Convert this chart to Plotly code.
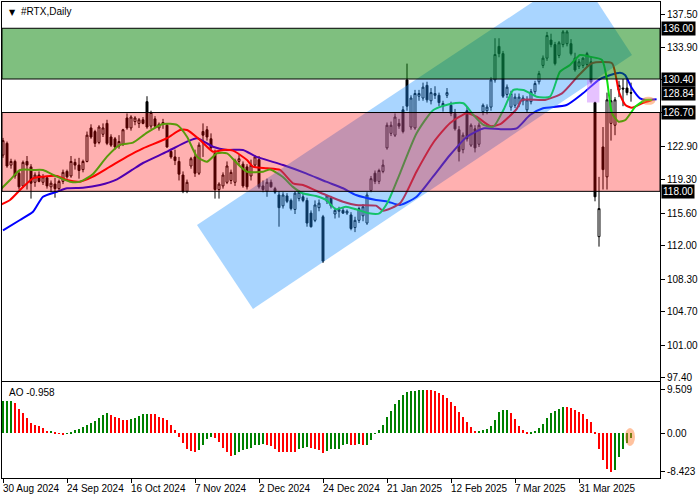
import plotly.graph_objects as go
import pandas as pd

# ---------------- data ----------------
symbol_title = "#RTX,Daily"
holidays = ["2024-09-02", "2024-11-28", "2024-12-25", "2025-01-01", "2025-01-09",
            "2025-01-20", "2025-02-17", "2025-04-18"]
dates = [d for d in pd.bdate_range("2024-08-30", "2025-04-17")
         if d.strftime("%Y-%m-%d") not in holidays]

opens = [122.0, 123.3, 120.9, 121.3, 120.0, 118.6, 121.3, 120.7, 119.0, 119.8,
         119.0, 119.5, 118.5, 118.8, 118.3, 119.1, 120.2, 119.7, 121.2, 120.9,
         120.4, 121.3, 125.0, 124.6, 123.4, 124.3, 125.5, 124.0, 123.8, 123.0,
         123.2, 126.1, 125.0, 125.7, 125.5, 125.9, 127.9, 125.2, 126.0, 125.0,
         125.4, 125.3, 122.4, 121.8, 121.3, 119.8, 118.0, 120.8, 121.8, 120.0,
         124.6, 124.8, 123.8, 122.2, 118.2, 118.6, 119.0, 119.2, 119.0, 121.3,
         121.0, 120.7, 119.7, 120.9, 121.5, 118.6, 118.0, 119.0, 118.3, 117.6,
         116.4, 117.5, 117.0, 116.0, 117.2, 117.4, 117.0, 115.6, 114.8, 116.2,
         115.2, 116.9, 117.3, 115.5, 115.8, 115.9, 115.6, 115.4, 114.0, 114.8,
         115.3, 114.5, 118.1, 120.0, 119.1, 120.2, 122.8, 124.4, 124.2, 125.5,
         127.0, 130.3, 125.1, 125.0, 128.5, 128.3, 129.7, 128.0, 128.8, 128.6,
         127.4, 128.6, 127.5, 126.6, 124.8, 122.6, 126.9, 123.1, 124.9, 123.2,
         126.8, 126.9, 127.3, 130.3, 134.0, 133.2, 128.7, 127.3, 127.5, 127.6,
         128.0, 127.0, 127.9, 129.0, 130.1, 131.9, 132.7, 134.7, 134.2, 133.0,
         134.2, 134.3, 134.3, 132.7, 131.8, 131.9, 132.0, 132.3, 127.8, 113.0,
         122.9, 119.6, 125.5, 125.3, 129.2, 129.4, 129.4, 128.9]
highs = [123.9, 123.5, 121.6, 121.5, 120.3, 121.4, 121.9, 121.0, 120.1, 120.2,
         119.9, 119.7, 119.2, 119.5, 119.3, 120.4, 120.4, 121.9, 121.6, 121.7,
         121.5, 124.6, 125.4, 124.8, 125.3, 125.5, 125.9, 124.3, 124.0, 124.2,
         124.9, 126.6, 126.4, 126.3, 126.1, 126.2, 128.5, 126.9, 126.3, 125.6,
         126.0, 125.5, 122.7, 122.6, 121.8, 120.2, 119.3, 121.8, 122.6, 123.4,
         125.5, 125.2, 124.4, 122.6, 119.0, 120.1, 121.3, 120.4, 121.6, 122.0,
         121.3, 121.0, 121.5, 122.0, 121.9, 119.2, 119.4, 119.3, 118.5, 118.0,
         117.9, 117.8, 117.2, 118.0, 118.1, 117.8, 117.3, 115.9, 117.0, 117.1,
         115.4, 117.6, 117.5, 116.2, 116.3, 116.2, 116.0, 115.7, 115.2, 116.3,
         116.6, 117.9, 119.7, 120.3, 120.5, 121.5, 125.6, 125.7, 126.6, 126.0,
         127.4, 132.1, 128.6, 129.2, 129.2, 130.0, 130.1, 129.4, 129.6, 128.9,
         128.0, 129.4, 127.9, 127.1, 125.2, 124.5, 127.3, 125.5, 125.3, 125.6,
         127.7, 127.6, 130.6, 134.9, 134.9, 133.5, 129.8, 129.1, 128.8, 128.8,
         128.6, 128.5, 129.3, 130.2, 131.3, 133.0, 135.6, 135.4, 134.5, 134.6,
         135.8, 135.8, 134.8, 133.3, 132.6, 132.8, 133.4, 132.9, 127.9, 119.6,
         125.1, 128.9, 129.3, 128.4, 130.2, 130.4, 130.4, 130.0]
lows = [121.7, 120.6, 120.5, 119.4, 118.2, 118.4, 118.2, 117.2, 118.5, 119.0,
        118.7, 118.3, 117.9, 117.3, 118.0, 118.8, 119.4, 119.5, 120.4, 119.4,
        120.1, 121.2, 123.8, 122.9, 123.2, 124.0, 123.1, 122.9, 122.6, 122.7,
        123.0, 124.8, 124.7, 125.3, 125.0, 125.4, 124.9, 124.9, 125.0, 124.7,
        124.9, 122.8, 121.6, 120.9, 119.2, 117.8, 117.8, 120.5, 119.6, 119.8,
        121.8, 123.6, 122.5, 117.2, 117.2, 118.3, 118.8, 118.8, 118.6, 120.9,
        118.4, 118.2, 119.2, 120.6, 118.3, 117.9, 117.4, 118.4, 117.7, 114.1,
        116.1, 116.7, 115.9, 115.5, 116.9, 116.8, 114.1, 114.0, 114.6, 115.8,
        110.1, 116.6, 116.1, 115.0, 115.1, 115.5, 115.4, 113.7, 113.5, 114.5,
        114.7, 114.3, 117.9, 118.8, 118.8, 120.0, 122.6, 124.1, 124.0, 124.9,
        124.4, 126.9, 124.8, 124.8, 128.0, 128.0, 127.8, 127.6, 128.2, 127.4,
        126.8, 128.3, 126.3, 124.7, 121.3, 122.2, 123.5, 122.9, 122.3, 122.9,
        126.4, 126.5, 126.9, 130.0, 132.8, 128.3, 128.3, 126.9, 127.2, 127.3,
        127.5, 126.7, 127.6, 128.7, 129.8, 131.6, 132.4, 133.9, 131.9, 132.7,
        133.9, 134.0, 133.0, 131.2, 131.5, 131.6, 131.7, 129.9, 116.9, 111.9,
        118.2, 118.2, 123.6, 124.2, 128.4, 127.4, 128.6, 127.9]
closes = [123.6, 120.8, 121.3, 119.7, 118.5, 121.2, 120.9, 118.9, 119.8, 119.1,
          119.6, 118.6, 118.9, 118.3, 119.1, 120.1, 119.6, 121.3, 120.9, 120.3,
          121.3, 124.2, 124.0, 123.3, 125.1, 125.0, 123.3, 123.1, 122.9, 123.5,
          124.8, 125.0, 126.2, 126.1, 125.9, 125.5, 125.1, 126.7, 125.2, 125.4,
          125.6, 122.9, 121.8, 121.4, 119.9, 118.0, 119.0, 121.6, 120.0, 123.1,
          124.2, 124.0, 122.8, 118.2, 118.8, 119.8, 120.8, 120.1, 121.4, 121.6,
          118.6, 118.5, 120.9, 121.8, 118.5, 118.2, 119.0, 118.5, 117.9, 116.2,
          117.6, 116.9, 116.1, 117.8, 117.9, 117.0, 114.5, 114.1, 116.5, 116.7,
          110.3, 117.5, 116.4, 115.9, 116.0, 115.6, 115.8, 113.9, 114.8, 116.1,
          116.3, 117.6, 119.4, 119.1, 120.3, 120.9, 125.3, 125.3, 126.2, 125.2,
          124.6, 127.4, 128.3, 128.8, 128.8, 129.5, 128.1, 128.9, 128.6, 127.8,
          127.7, 128.9, 126.6, 124.9, 122.4, 124.2, 123.8, 125.3, 122.8, 125.3,
          127.5, 127.3, 130.3, 133.1, 133.2, 128.5, 129.5, 128.8, 128.4, 128.4,
          128.3, 128.1, 129.0, 129.9, 131.0, 132.7, 135.2, 134.2, 132.1, 134.4,
          135.6, 135.6, 133.2, 131.4, 132.3, 132.7, 133.2, 130.1, 117.4, 116.1,
          120.4, 128.1, 128.0, 128.1, 129.7, 129.3, 128.9, 128.84]

# Alligator lines (bar number, price)
jaw_bar = [0, 4.25, 7.5, 10, 13.5, 16, 20, 24.25, 28.5, 32.25, 35, 41, 46, 48.5, 52.5,
           56, 60, 63.25, 70, 75.75, 80.75, 85, 88.25, 93.25, 96.25, 99.25, 103.4,
           107.5, 111.75, 116, 120.25, 124.4, 128.4, 131.75, 135, 140.9, 145, 149.25,
           154.25, 155.5, 157.2, 159.25, 161, 163.4]
jaw_val = [113.7, 114.84, 115.75, 117.41, 117.96, 118.34, 118.4, 118.7, 119.33, 120.36,
           121.13, 122.38, 123.48, 123.86, 122.93, 122.57, 122.57, 121.83, 120.91, 119.99,
           119.07, 118.34, 117.6, 117.05, 116.86, 116.5, 117.41, 119.62, 122.01, 124.03,
           124.96, 124.85, 124.96, 126.43, 127.17, 127.53, 128.82, 130.4, 131.1, 130.84,
           129.41, 128.27, 128.09, 128.16]
teeth_bar = [-0.75, 1.75, 4.25, 7.5, 10, 13.5, 16, 19.25, 22.5, 26.75, 31, 35, 41, 44.25,
             46, 49.25, 52.5, 55, 57.5, 61, 62.5, 66, 69.25, 72.5, 75, 78.25, 80.75, 85,
             88.25, 93.25, 95, 99.25, 103.4, 107.6, 111.8, 116, 118.5, 121.8, 124.3,
             128.4, 129.75, 135.5, 139.75, 144, 147.25, 152.25, 153.25, 154, 155.6,
             157.25, 159.75, 162.25]
teeth_val = [116.5, 117.05, 118.15, 119.44, 119.62, 119.7, 119.25, 119.07, 119.62, 120.72,
             121.83, 122.75, 123.86, 124.77, 124.77, 123.67, 122.38, 122.57, 122.49, 121.46,
             120.72, 120.55, 120.36, 118.89, 118.7, 118.07, 117.6, 116.86, 116.5, 116.42,
             115.87, 116.68, 120.2, 123.39, 125.55, 126.62, 126.21, 125.21, 125.41, 127.09,
             128.09, 128.09, 128.82, 130.84, 132.14, 132.14, 130.62, 128.97, 127.53, 127.23,
             127.72, 128.09]
lips_bar = [-0.75, 1.75, 4.25, 7.5, 10, 13.5, 16.75, 19.25, 22.5, 26, 29.25, 32.5, 36, 40,
            43.5, 46, 48.5, 51, 53.5, 56, 58.5, 61, 65, 66.75, 69.9, 72.4, 74.9, 78.25,
            80.75, 83.25, 85.75, 88.25, 91.5, 94.1, 96.25, 99.25, 103.4, 107.6, 111.75,
            115.1, 117.6, 120.1, 122.6, 125.1, 127.6, 130.1, 133.4, 136.75, 139.25, 141.75,
            144.25, 146.75, 149.75, 151, 152.25, 153.9, 155.6, 158.1, 160.6, 162.25]
lips_val = [118.15, 119.25, 120.36, 120.36, 120.36, 119.62, 119.07, 119.07, 119.92, 121.83,
            123.12, 123.37, 124.48, 125.44, 125.33, 124.03, 121.83, 121.27, 122.2, 122.2,
            121.1, 120.17, 120.17, 120.41, 119.62, 118.52, 117.79, 117.49, 117.05, 116.02,
            116.31, 116.02, 115.58, 115.58, 116.86, 119.99, 124.41, 126.98, 127.64, 127.72,
            126.43, 125.33, 125.14, 126.98, 129.19, 129.19, 128.45, 128.45, 131.21, 131.95,
            133.05, 132.86, 132.5, 130.29, 126.62, 125.69, 125.88, 127.35, 128.09, 128.09]

ao_values = [7.05, 7.1, 7.15, 6.59, 5.34, 4.39, 3.29, 2.2, 1.83, 1.61,
             1.24, 0.51, 0.55, 0.29, -0.15, -0.2, -0.15, 0.22, 0.73, 0.95,
             1.32, 1.76, 2.2, 2.71, 3.29, 4.02, 4.54, 4.02, 3.59, 3.29,
             2.93, 2.9, 3.07, 3.44, 3.88, 4.24, 4.3, 4.24, 4.17, 3.66,
             3.44, 2.93, 1.83, 0.73, -0.73, -2.2, -3.44, -3.88, -4.02, -3.66,
             -2.56, -1.24, -0.73, -0.95, -1.83, -3.29, -4.02, -4.98, -4.76, -4.02,
             -3.66, -3.51, -3.15, -2.56, -2.49, -2.45, -2.55, -2.78, -3.44, -4.02,
             -4.05, -4.1, -4.17, -4.2, -3.44, -3.15, -3.1, -3.29, -3.35, -3.66,
             -4.24, -3.8, -3.51, -3.44, -3.37, -2.56, -2.34, -2.56, -2.6, -2.34,
             -2.56, -2.5, -1.46, -0.15, 0.73, 1.83, 3.66, 4.98, 6.37, 7.32,
             8.42, 9.15, 9.2, 9.3, 9.4, 9.509, 9.45, 9.4, 9.35, 8.93,
             8.42, 7.68, 6.95, 6.07, 4.76, 3.66, 2.56, 1.46, 0.51, 0.59,
             0.73, 0.88, 1.68, 2.93, 4.61, 5.12, 5.15, 4.39, 3.07, 1.68,
             0.73, 0.15, 0.22, 0.51, 1.1, 2.05, 3.29, 4.39, 4.9, 5.27,
             5.85, 5.8, 5.49, 5.12, 4.76, 4.17, 3.15, 2.41, 0.37, -3.44,
             -5.85, -7.83, -8.423, -8.0, -5.12, -3.44, -2.05, -0.958]

date_labels = ["30 Aug 2024", "24 Sep 2024", "16 Oct 2024", "7 Nov 2024", "2 Dec 2024",
               "24 Dec 2024", "21 Jan 2025", "12 Feb 2025", "7 Mar 2025", "31 Mar 2025"]
price_ticks = [137.5, 133.9, 130.4, 126.7, 122.9, 119.3, 115.6, 112.0, 108.3, 104.7, 101.0, 97.4]
ao_ticks = [9.509, 0.0, -8.423]
ao_tick_text = ["9.509", "0.00", "-8.423"]

resistance_zone = [130.40, 136.00]
support_zone = [118.00, 126.70]
level_labels = [136.00, 130.40, 128.84, 126.70, 118.00]
# trend channel corners (bar number, price)
channel_bar = [48.5, 62.5, 157.25, 143.7]
channel_val = [114.29, 105.02, 133.05, 142.21]
# gap marker (bar range, price range)
gap_bar = [146.0, 149.1]
gap_val = [127.8, 130.3]

# ---------------- figure ----------------
bars = list(range(len(dates)))
date_text = [d.strftime("%d %b %Y") for d in dates]
FONT = "Liberation Sans, Arial, sans-serif"
FS = 10

fig = go.Figure()
fig.add_trace(go.Candlestick(
    x=bars, open=opens, high=highs, low=lows, close=closes, text=date_text,
    increasing=dict(fillcolor="white", line=dict(color="black", width=1)),
    decreasing=dict(fillcolor="black", line=dict(color="black", width=1)),
    xaxis="x", yaxis="y", showlegend=False))
fig.add_trace(go.Scatter(x=jaw_bar, y=jaw_val, mode="lines", line=dict(color="#0000FF", width=2, shape="spline", smoothing=0.6),
                         xaxis="x", yaxis="y", showlegend=False))
fig.add_trace(go.Scatter(x=teeth_bar, y=teeth_val, mode="lines", line=dict(color="#FF0000", width=2, shape="spline", smoothing=0.6),
                         xaxis="x", yaxis="y", showlegend=False))
fig.add_trace(go.Scatter(x=lips_bar, y=lips_val, mode="lines", line=dict(color="#10E010", width=2, shape="spline", smoothing=0.6),
                         xaxis="x", yaxis="y", showlegend=False))

ao_colors = []
prev = None
for v in ao_values:
    ao_colors.append("#008000" if (prev is None or v > prev) else "#FF0000")
    prev = v
fig.add_trace(go.Bar(x=bars, y=ao_values, marker=dict(color=ao_colors, line=dict(width=0)),
                     width=0.72, xaxis="x2", yaxis="y2", showlegend=False))

xr = [-0.25, 164.25]
main_dom = [0.2044, 1.0]
ao_dom = [0.0, 0.2017]

tick_pos = [bars[date_text.index(pd.Timestamp(lbl).strftime("%d %b %Y"))] for lbl in date_labels]
# tick labels hidden where a level box sits on top of them
price_tick_text = ["" if any(abs(t - lv) < 0.05 for lv in level_labels) else f"{t:.2f}" for t in price_ticks]

fig.update_layout(
    width=700, height=500,
    margin=dict(l=2, r=40, t=2, b=22, autoexpand=False),
    paper_bgcolor="white", plot_bgcolor="white",
    font=dict(family=FONT, size=FS, color="black"),
    bargap=0,
    xaxis=dict(domain=[0, 1], range=xr, anchor="y", showgrid=False, zeroline=False,
               showticklabels=False, ticks="", showline=True, linecolor="black", linewidth=1,
               mirror=True, rangeslider=dict(visible=False), fixedrange=True, automargin=False),
    yaxis=dict(domain=main_dom, range=[97.10, 138.90], side="right", showgrid=False, zeroline=False,
               tickvals=price_ticks, ticktext=price_tick_text,
               ticks="outside", ticklen=4, tickcolor="black", automargin=False,
               showline=True, linecolor="black", linewidth=1, mirror=True,
               tickfont=dict(family=FONT, size=FS, color="black")),
    xaxis2=dict(domain=[0, 1], range=xr, anchor="y2", showgrid=False, zeroline=False,
                tickvals=tick_pos, ticktext=["" for _ in tick_pos], ticks="outside", ticklen=4,
                tickcolor="black", showline=True, linecolor="black", linewidth=1, mirror=True,
                automargin=False),
    yaxis2=dict(domain=ao_dom, range=[-9.81, 11.26], side="right", showgrid=False, zeroline=False,
                tickvals=ao_ticks, ticktext=ao_tick_text, ticks="outside", ticklen=4, tickcolor="black",
                showline=True, linecolor="black", linewidth=1, mirror=True, automargin=False,
                tickfont=dict(family=FONT, size=FS, color="black")),
)

shapes = []
path = "M " + " L ".join(f"{b},{v}" for b, v in zip(channel_bar, channel_val)) + " Z"
shapes.append(dict(type="path", xref="x", yref="y", path=path, layer="above",
                   fillcolor="rgba(30,144,255,0.38)", line=dict(width=0)))
shapes.append(dict(type="rect", xref="x domain", yref="y", x0=0, x1=1,
                   y0=resistance_zone[0], y1=resistance_zone[1], layer="above",
                   fillcolor="rgba(0,128,0,0.5)", line=dict(color="black", width=1)))
shapes.append(dict(type="rect", xref="x domain", yref="y", x0=0, x1=1,
                   y0=support_zone[0], y1=support_zone[1], layer="above",
                   fillcolor="rgba(255,0,0,0.31)", line=dict(color="black", width=1)))
shapes.append(dict(type="rect", xref="x", yref="y", x0=gap_bar[0], x1=gap_bar[1],
                   y0=gap_val[0], y1=gap_val[1], layer="above",
                   fillcolor="rgba(200,120,255,0.45)", line=dict(width=0)))
shapes.append(dict(type="circle", xref="x", yref="y", xsizemode="pixel", ysizemode="pixel",
                   xanchor=lips_bar[-1] - 0.9, yanchor=lips_val[-1] - 0.1, x0=-7, x1=7, y0=-4, y1=4,
                   layer="above", fillcolor="rgba(255,120,40,0.45)", line=dict(width=0)))
shapes.append(dict(type="circle", xref="x2", yref="y2", xsizemode="pixel", ysizemode="pixel",
                   xanchor=bars[-1] - 0.25, yanchor=ao_values[-1] + 0.15, x0=-5, x1=5, y0=-9, y1=9,
                   layer="above", fillcolor="rgba(255,120,40,0.45)", line=dict(width=0)))
fig.update_layout(shapes=shapes)

ann = []
for lv in level_labels:
    ann.append(dict(xref="paper", yref="y", x=1, y=lv, xanchor="left", yanchor="middle",
                    xshift=1, text=f"{lv:.2f}", showarrow=False, bgcolor="black", borderpad=1,
                    font=dict(family=FONT, size=FS, color="white")))
for pos, lbl in zip(tick_pos, date_labels):
    ann.append(dict(xref="x2", yref="paper", x=pos, y=0, xanchor="left", yanchor="top",
                    xshift=-2, yshift=-3, text=lbl, showarrow=False,
                    font=dict(family=FONT, size=FS, color="black")))
ann.append(dict(xref="paper", yref="paper", x=0, y=1, xanchor="left", yanchor="top",
                xshift=5, yshift=-4, text="\u25bc", showarrow=False,
                font=dict(family="DejaVu Sans", size=8, color="black")))
ann.append(dict(xref="paper", yref="paper", x=0, y=1, xanchor="left", yanchor="top",
                xshift=17, yshift=-2, text=symbol_title, showarrow=False,
                font=dict(family=FONT, size=FS, color="black")))
ann.append(dict(xref="paper", yref="paper", x=0, y=ao_dom[1], xanchor="left", yanchor="top",
                xshift=5, yshift=-3, text=f"AO {ao_values[-1]:.3f}", showarrow=False,
                font=dict(family=FONT, size=FS, color="black")))
fig.update_layout(annotations=ann)

fig.write_html("out.html", config={"displayModeBar": False},
               post_script="document.body.style.margin='0px';document.body.style.overflow='hidden';")
